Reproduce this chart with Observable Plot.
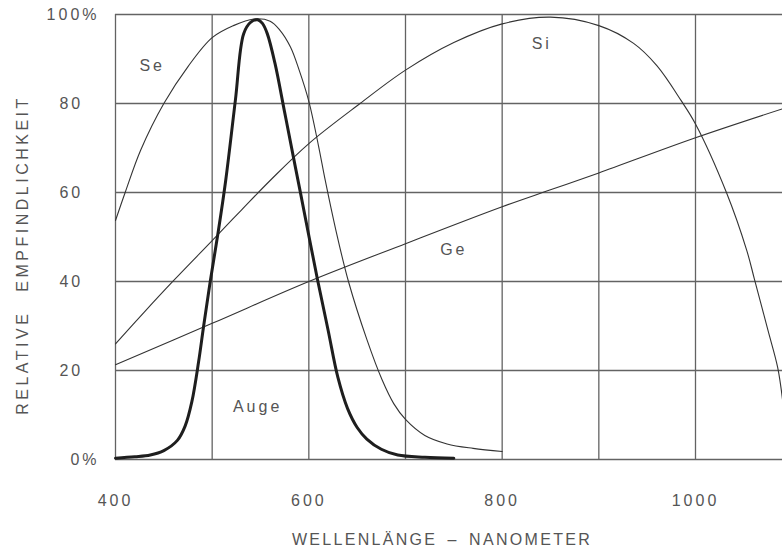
<!DOCTYPE html>
<html>
<head>
<meta charset="utf-8">
<script src="https://cdn.jsdelivr.net/npm/d3@7"></script>
<script src="https://cdn.jsdelivr.net/npm/@observablehq/plot@0.6"></script>
<style>
  html, body { margin: 0; padding: 0; background: #fff; }
  #chart svg text { letter-spacing: 3px; }
</style>
</head>
<body>
<div id="chart"></div>
<script>
// Wavelengths (nm) and relative sensitivity (%)
const seWl  = [400,410,426,450,475,500,522,543,560,570,581,590,600,610,617,628,641,660,676,688,700,720,743,770,800];
const seVal = [53.7,60,69.5,80,88.3,94.8,97.5,99,98.5,96.5,92.7,87.5,80.5,70.5,62.7,51.5,40,27,17.8,12.5,9,5.4,3.5,2.5,1.8];

const siWl  = [400,430,460,500,530,560,600,653,700,750,800,850,900,936,960,985,1000,1032,1053,1061,1075,1085,1090];
const siVal = [26,33.2,40.2,49.2,56,62.7,71,80,87.5,93.7,97.9,99.4,97.5,93.5,88.5,80.7,75.4,60,47,40.5,29,20.7,13.5];

const geWl  = [400,500,600,700,800,850,900,1000,1090];
const geVal = [21.3,30.6,40,48.5,56.8,60.6,64.4,72.3,78.8];

const augeWl  = [400,420,436,450,464,472,479,486,491,498,506.5,514,524,532.6,540,547,552,557,565,575,584,591,609,620,630,640,650,660,675,692,720,750];
const augeVal = [0.3,0.6,1,2,4.3,7.5,13,22,29.7,40,51.5,62.7,80.7,95.7,98.3,98.8,98,95.7,89,78,68,60.3,40.4,29,18.5,11.5,7.2,4.6,2.3,1,0.5,0.3];

const labelNames = ["Se","Si","Ge","Auge"];
const labelX = [438, 841, 750, 547];
const labelY = [88.5, 93.5, 47.2, 11.9];

const xGrid = [400,500,600,700,800,900,1000];
const yGrid = [0,20,40,60,80,100];
const xTicks = [400,600,800,1000];
const yTicks = [0,20,40,60,80,100];
const yTickLabels = ["0%","20","40","60","80","100%"];

const xTitle = "WELLENLÄNGE\u2002–\u2002NANOMETER";
const yTitle = "RELATIVE\u2002\u2005EMPFINDLICHKEIT";

const gridColor = "#636363";
const textColor = "#555";

const chart = Plot.plot({
  width: 782,
  height: 550,
  marginLeft: 115,
  marginRight: 0,
  marginTop: 14,
  marginBottom: 91,
  style: {fontFamily: "'Liberation Sans', Arial, sans-serif", fontSize: "16px", color: textColor, background: "#fff"},
  x: {domain: [400, 1090]},
  y: {domain: [0, 100]},
  marks: [
    Plot.ruleX(xGrid, {x: d => d, stroke: gridColor, strokeWidth: 1.3}),
    Plot.ruleY(yGrid, {y: d => d, stroke: gridColor, strokeWidth: 1.3}),
    Plot.axisX(xTicks, {tickSize: 0, tickPadding: 35, fontSize: 16, fill: textColor, tickFormat: d => String(d), label: null}),
    // numbers right-aligned, the "%" sign hangs past the alignment like in the reference
    Plot.axisY(yTicks, {tickSize: 0, tickPadding: 16, fontSize: 16, fill: textColor,
      tickFormat: d => yTickLabels[yTicks.indexOf(d)].endsWith("%") ? yTickLabels[yTicks.indexOf(d)] : yTickLabels[yTicks.indexOf(d)] + "\u2007\u200A",
      label: null}),
    Plot.line(geWl, {x: geWl, y: geVal, curve: "catmull-rom", stroke: "#333", strokeWidth: 1.1}),
    Plot.line(siWl, {x: siWl, y: siVal, curve: "catmull-rom", stroke: "#333", strokeWidth: 1.1, clip: true}),
    Plot.line(seWl, {x: seWl, y: seVal, curve: "catmull-rom", stroke: "#333", strokeWidth: 1.1}),
    Plot.line(augeWl, {x: augeWl, y: augeVal, curve: "catmull-rom", stroke: "#1e1e1e", strokeWidth: 3}),
    Plot.text(labelNames, {x: labelX, y: labelY, text: labelNames, fontSize: 16, fill: textColor}),
    Plot.text([yTitle], {text: d => d, frameAnchor: "left", textAnchor: "middle", rotate: -90, dx: -93, dy: 18, fontSize: 16, fill: textColor}),
    Plot.text([xTitle], {text: d => d, frameAnchor: "bottom", textAnchor: "middle", dx: -7, dy: 85, fontSize: 16, fill: textColor})
  ]
});
document.getElementById("chart").appendChild(chart);
d3.select(chart).selectAll("text").each(function() {
  const t = this.textContent;
  if (t === xTitle) this.style.letterSpacing = "2.3px";
  if (t === yTitle) this.style.letterSpacing = "3.5px";
});
</script>
</body>
</html>
